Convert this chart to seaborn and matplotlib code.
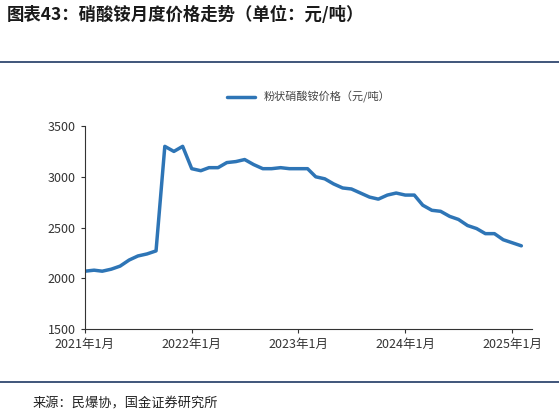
import pandas as pd
import numpy as np
import matplotlib
matplotlib.use("Agg")
import matplotlib.pyplot as plt
import matplotlib.dates as mdates
import seaborn as sns

# 数据：粉状硝酸铵月度价格（元/吨），2021-01 至 2025-02
meses = pd.date_range("2021-01-01", periods=50, freq="MS")
precios = [2070, 2080, 2070, 2090, 2120, 2180, 2220, 2240, 2270, 3300, 3250, 3300,
           3080, 3060, 3090, 3090, 3140, 3150, 3170, 3120, 3080, 3080, 3090, 3080,
           3080, 3080, 3000, 2980, 2930, 2890, 2880, 2840, 2800, 2780, 2820, 2840,
           2820, 2820, 2720, 2670, 2660, 2610, 2580, 2520, 2490, 2440, 2440, 2380,
           2350, 2320]
etiquetas_x = ["2021年1月", "2022年1月", "2023年1月", "2024年1月", "2025年1月"]
fechas_ticks = pd.to_datetime(["2021-01-01", "2022-01-01", "2023-01-01", "2024-01-01", "2025-01-01"])

df = pd.DataFrame({"fecha": meses, "precio": precios})

sns.set_style("white")
plt.rcParams['font.family'] = ['Noto Sans CJK SC', 'DejaVu Sans']

fig = plt.figure(figsize=(5.59, 4.16), dpi=100)
ax = fig.add_axes([0.152, 0.209, 0.80, 0.488])

sns.lineplot(data=df, x="fecha", y="precio", ax=ax, color="#2E75B6", linewidth=2.5,
             label="粉状硝酸铵价格（元/吨）")

ax.set_ylim(1500, 3500)
ax.set_yticks([1500, 2000, 2500, 3000, 3500])
ax.set_xlim(pd.Timestamp("2021-01-01"), pd.Timestamp("2025-03-10"))
ax.set_xticks(fechas_ticks)
ax.set_xticklabels(etiquetas_x)
ax.tick_params(axis="both", labelsize=9, colors="#333333", length=3, direction="out", bottom=True, left=True)
ax.set_xlabel("")
ax.set_ylabel("")
for lado in ["top", "right"]:
    ax.spines[lado].set_visible(False)
for lado in ["left", "bottom"]:
    ax.spines[lado].set_color("#333333")
    ax.spines[lado].set_linewidth(0.8)

ax.legend(loc="upper center", bbox_to_anchor=(0.5, 1.22), frameon=False, fontsize=8,
          handlelength=2.5, labelcolor="#444444")

# título y fuente
fig.text(0.012, 0.965, "图表43：硝酸铵月度价格走势（单位：元/吨）", fontsize=12.5,
         fontweight="bold", style="italic", color="#1a1a1a", va="center")
fig.add_artist(plt.Line2D([0.0, 1.0], [0.851, 0.851], color="#1F3864", linewidth=1.2))
fig.add_artist(plt.Line2D([0.0, 1.0], [0.082, 0.082], color="#1F3864", linewidth=1.2))
fig.text(0.058, 0.03, "来源：民爆协，国金证券研究所", fontsize=9.5, color="#222222", va="center")

plt.savefig("out.png", dpi=100)
plt.close()
